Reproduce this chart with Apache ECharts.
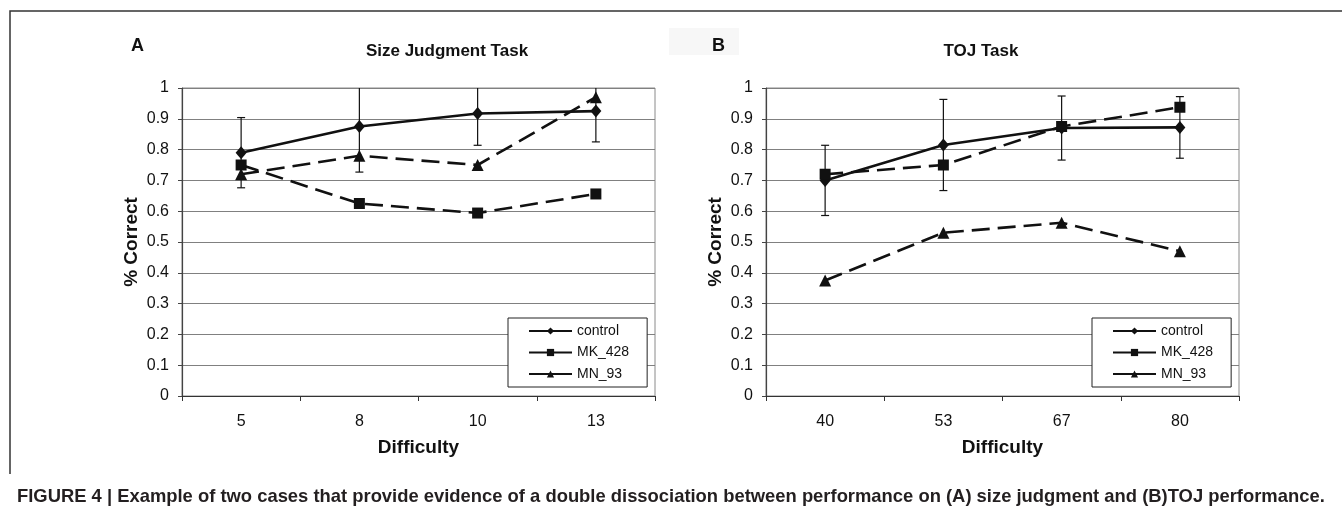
<!DOCTYPE html>
<html>
<head>
<meta charset="utf-8">
<script src="https://cdn.jsdelivr.net/npm/echarts@6/dist/echarts.min.js"></script>
<style>
html,body{margin:0;padding:0;background:#fff;}
#chart{width:1342px;height:523px;}
</style>
</head>
<body>
<div id="chart"></div>
<script>
// ---- data ----
const seriesNames = ['control', 'MK_428', 'MN_93'];
const yTicks = [0, 0.1, 0.2, 0.3, 0.4, 0.5, 0.6, 0.7, 0.8, 0.9, 1];

const sizeCategories = ['5', '8', '10', '13'];
const sizeControl = [0.79, 0.875, 0.917, 0.925];
const sizeControlErr = [0.114, 0.148, 0.103, 0.1];
const sizeMK428 = [0.75, 0.625, 0.594, 0.656];
const sizeMN93 = [0.72, 0.78, 0.75, 0.97];

const tojCategories = ['40', '53', '67', '80'];
const tojControl = [0.70, 0.815, 0.87, 0.872];
const tojControlErr = [0.114, 0.148, 0.104, 0.1];
const tojMK428 = [0.72, 0.75, 0.875, 0.9375];
const tojMN93 = [0.375, 0.53, 0.5625, 0.47];

const captionText = 'FIGURE 4 | Example of two cases that provide evidence of a double dissociation between performance on (A) size judgment and (B)TOJ performance.';

// ---- chart ----
const FONT = '"Liberation Sans", Arial, sans-serif';
const INK = '#111';
const chart = echarts.init(document.getElementById('chart'), null, {renderer: 'canvas'});

function errData(vals, errs) {
  return vals.map((v, i) => [i, v - errs[i], v + errs[i]]);
}

function errSeries(idx, vals, errs) {
  return {
    type: 'custom',
    xAxisIndex: idx, yAxisIndex: idx,
    silent: true,
    clip: true,
    z: 1,
    data: errData(vals, errs),
    renderItem: function (params, api) {
      const x = api.value(0);
      const lo = api.coord([x, api.value(1)]);
      const hi = api.coord([x, api.value(2)]);
      const cap = 4;
      const style = {stroke: INK, lineWidth: 1.2};
      return {
        type: 'group',
        children: [
          {type: 'line', shape: {x1: lo[0], y1: lo[1], x2: hi[0], y2: hi[1]}, style: style},
          {type: 'line', shape: {x1: lo[0] - cap, y1: lo[1], x2: lo[0] + cap, y2: lo[1]}, style: style},
          {type: 'line', shape: {x1: hi[0] - cap, y1: hi[1], x2: hi[0] + cap, y2: hi[1]}, style: style}
        ]
      };
    },
    encode: {x: 0, y: [1, 2]}
  };
}

function lineSeries(idx, name, vals, symbol, size, dashed) {
  return {
    type: 'line',
    name: name,
    xAxisIndex: idx, yAxisIndex: idx,
    data: vals,
    symbol: symbol,
    symbolSize: size,
    showAllSymbol: true,
    z: 3,
    lineStyle: {color: INK, width: 2.6, type: dashed ? [18, 8] : 'solid'},
    itemStyle: {color: INK, borderWidth: 0},
    emphasis: {disabled: true}
  };
}

function xAxis(idx, cats) {
  return {
    type: 'category', gridIndex: idx, data: cats,
    name: 'Difficulty', nameLocation: 'middle', nameGap: 42,
    nameTextStyle: {fontFamily: FONT, fontWeight: 'bold', fontSize: 19, color: INK},
    axisLine: {lineStyle: {color: '#333', width: 1.2}},
    axisTick: {show: true, length: 5, lineStyle: {color: '#333'}},
    axisLabel: {margin: 18, fontFamily: FONT, fontSize: 16, color: INK},
    splitLine: {show: false}
  };
}

function yAxis(idx) {
  return {
    type: 'value', gridIndex: idx, min: 0, max: 1, interval: 0.1,
    name: '% Correct', nameLocation: 'middle', nameGap: 41, nameRotate: 90,
    nameTextStyle: {fontFamily: FONT, fontWeight: 'bold', fontSize: 19, color: INK},
    axisLine: {show: true, lineStyle: {color: '#444', width: 1.2}},
    axisTick: {show: true, length: 4, lineStyle: {color: '#444'}},
    axisLabel: {margin: 13, fontFamily: FONT, fontSize: 16, color: INK,
      formatter: function (v) { const t = yTicks.find(k => Math.abs(k - v) < 1e-6); return t === undefined ? '' : String(t); }},
    splitLine: {show: true, lineStyle: {color: '#808080', width: 1}}
  };
}

function legend(left) {
  return {
    data: seriesNames,
    orient: 'vertical',
    left: left, top: 318,
    padding: [6, 18, 6, 20],
    itemWidth: 43, itemHeight: 9, itemGap: 7.5,
    backgroundColor: '#fff',
    borderColor: '#222', borderWidth: 1, borderRadius: 0,
    lineStyle: {type: 'solid', width: 2, color: INK},
    textStyle: {fontFamily: FONT, fontSize: 14, color: INK, lineHeight: 14},
    selectedMode: false
  };
}

const option = {
  backgroundColor: '#fff',
  animation: false,
  title: [
    {text: 'A', left: 126, top: 32, textStyle: {fontFamily: FONT, fontWeight: 'bold', fontSize: 18, color: INK}},
    {text: 'Size Judgment Task', left: 442, top: 38, textAlign: 'center', textStyle: {fontFamily: FONT, fontWeight: 'bold', fontSize: 17, color: INK}},
    {text: 'B', left: 707, top: 32, textStyle: {fontFamily: FONT, fontWeight: 'bold', fontSize: 18, color: INK}},
    {text: 'TOJ Task', left: 976, top: 38, textAlign: 'center', textStyle: {fontFamily: FONT, fontWeight: 'bold', fontSize: 17, color: INK}}
  ],
  grid: [
    {left: 182, top: 88, width: 473, height: 308, show: true, borderColor: '#8a8a8a', borderWidth: 1, backgroundColor: 'transparent'},
    {left: 766, top: 88, width: 473, height: 308, show: true, borderColor: '#8a8a8a', borderWidth: 1, backgroundColor: 'transparent'}
  ],
  xAxis: [xAxis(0, sizeCategories), xAxis(1, tojCategories)],
  yAxis: [yAxis(0), yAxis(1)],
  legend: [legend(508), legend(1092)],
  series: [
    errSeries(0, sizeControl, sizeControlErr),
    lineSeries(0, 'control', sizeControl, 'diamond', [11, 13], false),
    lineSeries(0, 'MK_428', sizeMK428, 'rect', 11, true),
    lineSeries(0, 'MN_93', sizeMN93, 'triangle', 12, true),
    errSeries(1, tojControl, tojControlErr),
    lineSeries(1, 'control', tojControl, 'diamond', [11, 13], false),
    lineSeries(1, 'MK_428', tojMK428, 'rect', 11, true),
    lineSeries(1, 'MN_93', tojMN93, 'triangle', 12, true)
  ],
  graphic: [
    {type: 'rect', silent: true, z: -1, shape: {x: 669, y: 28, width: 70, height: 27}, style: {fill: '#f7f7f7'}},
    {type: 'polyline', silent: true, shape: {points: [[10, 474], [10, 11], [1342, 11]]}, style: {stroke: '#333', lineWidth: 1.5, fill: null}},
    {type: 'text', silent: true, x: 17, y: 497, style: {text: captionText, fontFamily: FONT, fontWeight: 'bold', fontSize: 18.4, fill: '#231f20', verticalAlign: 'middle'}}
  ]
};
chart.setOption(option);
</script>
</body>
</html>
